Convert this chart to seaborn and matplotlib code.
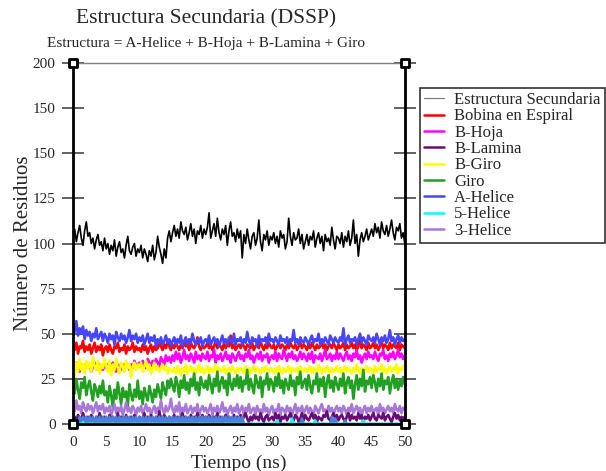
# Estructura Secundaria (DSSP) - recreated with seaborn
import numpy as np
import pandas as pd
import seaborn as sns
import matplotlib.pyplot as plt
from matplotlib.lines import Line2D

# ===============================
# Data (residue counts, every 0.25 ns)
# ===============================
tiempo = np.arange(201) * 0.25

estructura = [
    104, 108, 101, 106, 110, 103, 99, 107, 112, 104, 106, 100, 103, 97, 102, 105, 99, 101, 96, 103,
    97, 100, 94, 99, 96, 102, 93, 98, 101, 95, 97, 92, 99, 104, 96, 94, 98, 100, 93, 97,
    95, 99, 92, 97, 94, 90, 96, 93, 99, 91, 95, 104, 98, 94, 89, 97, 92, 103, 107, 101,
    106, 110, 104, 108, 103, 112, 107, 105, 109, 102, 106, 111, 104, 108, 100, 107, 105, 110, 103, 108,
    105, 109, 117, 103, 107, 111, 104, 114, 106, 102, 108, 105, 110, 99, 107, 112, 104, 106, 101, 108,
    103, 107, 92, 105, 100, 108, 102, 97, 104, 106, 99, 103, 113, 101, 96, 105, 102, 107, 99, 104,
    102, 106, 100, 104, 98, 107, 103, 105, 97, 101, 114, 104, 99, 106, 102, 103, 108, 100, 105, 97,
    101, 105, 99, 104, 102, 107, 98, 103, 106, 100, 104, 96, 105, 101, 103, 99, 109, 102, 97, 104,
    103, 100, 106, 98, 104, 101, 107, 99, 103, 113, 100, 105, 93, 102, 106, 101, 104, 108, 102, 105,
    108, 104, 111, 106, 109, 103, 112, 107, 105, 110, 104, 108, 113, 106, 102, 109, 107, 111, 103, 106,
    100]

bobina = [
    44, 41, 45, 39, 43, 42, 46, 40, 43, 41, 44, 39, 42, 45, 40, 43, 41, 44, 38, 42,
    43, 40, 44, 41, 39, 43, 42, 45, 40, 42, 41, 44, 39, 43, 41, 42, 45, 40, 43, 41,
    42, 40, 44, 41, 43, 39, 42, 44, 40, 43, 41, 42, 45, 43, 41, 44, 42, 46, 43, 41,
    44, 42, 45, 43, 41, 44, 42, 46, 43, 44, 41, 45, 43, 42, 44, 48, 43, 41, 44, 42,
    43, 45, 42, 44, 41, 43, 46, 42, 44, 43, 41, 45, 42, 44, 43, 49, 42, 44, 41, 43,
    44, 42, 45, 43, 41, 44, 43, 42, 45, 41, 43, 44, 42, 46, 43, 41, 44, 42, 45, 43,
    42, 44, 41, 43, 45, 42, 44, 43, 41, 44, 42, 45, 43, 42, 44, 41, 43, 45, 42, 44,
    43, 41, 44, 42, 45, 43, 41, 44, 42, 43, 45, 42, 44, 41, 43, 44, 42, 45, 43, 41,
    44, 42, 43, 45, 41, 44, 42, 43, 45, 42, 44, 41, 43, 48, 42, 44, 43, 41, 45, 42,
    43, 45, 42, 44, 41, 43, 46, 42, 44, 43, 41, 45, 42, 44, 43, 42, 45, 41, 44, 43,
    42]

b_hoja = [
    33, 30, 34, 31, 29, 33, 32, 30, 34, 31, 33, 29, 32, 34, 30, 32, 33, 31, 30, 33,
    31, 33, 30, 32, 34, 31, 29, 33, 32, 30, 33, 31, 34, 32, 30, 33, 31, 35, 32, 33,
    34, 32, 35, 33, 31, 36, 34, 32, 35, 33, 36, 34, 32, 37, 35, 33, 38, 35, 37, 34,
    38, 35, 40, 36, 39, 34, 37, 41, 36, 38, 35, 39, 37, 34, 40, 36, 38, 35, 39, 37,
    36, 40, 35, 38, 37, 41, 34, 38, 36, 39, 35, 37, 40, 36, 38, 34, 39, 37, 35, 38,
    40, 36, 38, 35, 39, 37, 41, 36, 38, 34, 37, 39, 36, 40, 35, 38, 37, 39, 34, 37,
    38, 36, 40, 35, 39, 37, 36, 41, 38, 35, 39, 37, 40, 36, 38, 35, 37, 40, 36, 39,
    37, 35, 39, 36, 40, 34, 38, 37, 36, 39, 35, 38, 41, 36, 37, 39, 35, 38, 36, 40,
    36, 39, 37, 35, 38, 40, 36, 38, 35, 39, 37, 41, 36, 38, 34, 37, 39, 36, 40, 37,
    38, 36, 40, 37, 35, 39, 38, 41, 36, 38, 35, 39, 37, 40, 36, 38, 41, 37, 39, 36,
    38]

b_lamina = [
    2, 4, 1, 5, 3, 2, 6, 3, 1, 4, 2, 5, 3, 1, 4, 2, 6, 3, 2, 4,
    3, 1, 5, 2, 4, 3, 1, 6, 2, 4, 3, 2, 5, 1, 3, 4, 2, 5, 3, 1,
    4, 2, 3, 6, 1, 4, 2, 5, 3, 2, 4, 1, 7, 3, 2, 5, 3, 1, 4, 2,
    3, 5, 2, 4, 1, 3, 6, 2, 4, 3, 1, 5, 2, 4, 3, 6, 2, 3, 5, 1,
    4, 2, 5, 3, 1, 4, 3, 6, 2, 4, 1, 3, 5, 2, 4, 3, 1, 5, 2, 4,
    3, 5, 2, 4, 6, 3, 1, 4, 2, 5, 3, 4, 2, 6, 3, 1, 4, 5, 2, 3,
    4, 2, 6, 3, 5, 1, 4, 3, 5, 2, 4, 6, 3, 2, 5, 4, 1, 3, 6, 2,
    5, 3, 2, 4, 6, 3, 5, 1, 4, 3, 2, 5, 4, 7, 3, 2, 4, 6, 3, 5,
    2, 4, 5, 3, 1, 4, 6, 2, 5, 3, 4, 2, 6, 3, 5, 1, 4, 3, 5, 2,
    4, 6, 3, 2, 5, 4, 3, 6, 2, 4, 5, 3, 1, 4, 6, 3, 5, 2, 4, 3,
    4]

b_giro = [
    31, 27, 34, 29, 36, 30, 33, 28, 35, 31, 34, 29, 37, 32, 30, 35, 28, 33, 31, 36,
    32, 29, 35, 27, 33, 30, 36, 31, 28, 34, 32, 29, 35, 31, 33, 26, 32, 34, 30, 33,
    31, 34, 29, 32, 35, 30, 33, 28, 31, 34, 30, 32, 29, 31, 33, 30, 32, 28, 31, 30,
    29, 31, 28, 32, 30, 27, 31, 29, 33, 28, 30, 32, 29, 31, 28, 30, 33, 29, 31, 28,
    30, 32, 28, 31, 29, 30, 33, 28, 31, 30, 29, 32, 28, 30, 31, 29, 32, 30, 28, 31,
    29, 31, 30, 28, 32, 29, 31, 28, 30, 32, 29, 31, 30, 28, 31, 29, 32, 30, 29, 31,
    30, 28, 31, 29, 32, 30, 28, 31, 29, 30, 32, 28, 31, 30, 29, 31, 28, 32, 30, 29,
    31, 29, 30, 32, 28, 31, 30, 29, 33, 30, 28, 31, 29, 32, 30, 28, 31, 29, 30, 32,
    29, 31, 28, 30, 32, 29, 31, 30, 28, 31, 29, 33, 30, 28, 31, 29, 30, 32, 29, 31,
    30, 28, 32, 29, 31, 30, 33, 29, 31, 28, 30, 32, 29, 31, 30, 33, 28, 31, 30, 32,
    30]

giro = [
    22, 17, 25, 19, 14, 23, 20, 26, 16, 21, 24, 18, 13, 22, 19, 15, 21, 17, 24, 16,
    18, 12, 21, 16, 9, 19, 14, 23, 17, 11, 20, 15, 18, 10, 22, 16, 13, 19, 15, 24,
    14, 18, 11, 20, 16, 13, 21, 17, 12, 19, 15, 22, 18, 14, 23, 19, 16, 24, 20, 25,
    21, 18, 26, 22, 15, 24, 20, 27, 19, 23, 17, 25, 21, 28, 19, 23, 16, 26, 22, 20,
    24, 19, 27, 22, 17, 25, 21, 29, 18, 23, 26, 20, 24, 16, 28, 22, 19, 25, 21, 27,
    20, 26, 18, 24, 22, 30, 19, 25, 21, 17, 27, 23, 20, 26, 15, 24, 22, 28, 19, 25,
    23, 18, 26, 21, 28, 20, 24, 17, 25, 22, 19, 27, 21, 24, 16, 26, 22, 29, 20, 23,
    25, 19, 27, 21, 17, 24, 22, 28, 18, 25, 21, 26, 15, 23, 27, 20, 24, 18, 26, 22,
    19, 25, 21, 28, 17, 23, 26, 20, 24, 14, 22, 27, 19, 25, 21, 30, 18, 24, 22, 26,
    20, 27, 23, 18, 25, 21, 28, 19, 24, 22, 26, 17, 23, 27, 20, 25, 19, 24, 21, 26,
    22]

a_helice = [
    55, 51, 57, 49, 53, 50, 54, 47, 52, 49, 51, 46, 50, 48, 53, 47, 49, 51, 46, 50,
    48, 45, 50, 47, 49, 44, 51, 48, 46, 50, 47, 49, 45, 48, 52, 46, 49, 47, 50, 45,
    48, 46, 49, 44, 47, 50, 45, 48, 46, 49, 43, 47, 45, 48, 44, 46, 49, 45, 47, 43,
    46, 48, 44, 47, 45, 49, 43, 46, 48, 44, 47, 45, 50, 46, 44, 47, 45, 48, 43, 46,
    47, 45, 49, 44, 46, 48, 45, 47, 43, 46, 49, 45, 47, 44, 48, 46, 45, 50, 44, 47,
    46, 48, 44, 47, 45, 51, 46, 44, 48, 46, 47, 43, 49, 45, 47, 46, 48, 44, 50, 46,
    47, 45, 48, 46, 44, 49, 46, 47, 45, 48, 44, 47, 46, 52, 45, 47, 44, 48, 46, 45,
    48, 46, 44, 47, 49, 45, 47, 46, 50, 44, 47, 45, 48, 46, 44, 49, 47, 45, 48, 46,
    45, 48, 46, 53, 44, 47, 49, 45, 47, 46, 48, 44, 47, 50, 45, 48, 46, 44, 49, 47,
    46, 48, 45, 50, 47, 44, 48, 46, 49, 45, 47, 52, 46, 48, 44, 47, 49, 45, 48, 46,
    47]

helice_5 = [
    0, 0, 0, 0, 0, 0, 1, 0, 0, 0, 0, 0, 0, 0, 0, 0, 0, 0, 0, 0,
    0, 0, 0, 0, 0, 0, 0, 0, 0, 0, 0, 0, 0, 0, 0, 0, 0, 0, 0, 0,
    0, 0, 0, 0, 0, 0, 0, 0, 0, 0, 0, 0, 0, 0, 0, 0, 0, 0, 0, 0,
    0, 0, 0, 0, 0, 0, 0, 0, 0, 0, 0, 0, 0, 0, 0, 0, 0, 0, 0, 0,
    0, 0, 0, 0, 0, 0, 0, 0, 0, 0, 0, 0, 0, 0, 0, 0, 0, 0, 0, 0,
    0, 0, 0, 0, 0, 0, 0, 0, 0, 0, 0, 0, 0, 0, 0, 0, 0, 0, 0, 0,
    0, 0, 0, 2, 0, 0, 0, 0, 0, 0, 0, 0, 3, 0, 0, 0, 0, 0, 0, 0,
    0, 0, 0, 0, 0, 0, 2, 0, 0, 0, 0, 0, 0, 0, 0, 0, 0, 0, 0, 0,
    0, 0, 0, 0, 0, 0, 0, 0, 0, 0, 0, 0, 0, 0, 0, 2, 0, 0, 0, 0,
    0, 0, 0, 0, 0, 0, 0, 0, 0, 0, 0, 0, 0, 0, 0, 0, 0, 0, 0, 0,
    0]

helice_3 = [
    11, 7, 13, 8, 10, 6, 12, 9, 7, 11, 8, 10, 6, 9, 12, 7, 10, 8, 11, 6,
    9, 7, 10, 5, 8, 11, 6, 9, 7, 10, 5, 8, 12, 7, 9, 6, 10, 8, 5, 9,
    7, 10, 6, 8, 11, 7, 9, 5, 8, 10, 6, 9, 7, 13, 8, 6, 10, 7, 9, 14,
    8, 6, 10, 7, 12, 5, 9, 7, 11, 6, 8, 10, 6, 9, 7, 11, 5, 8, 10, 7,
    9, 6, 8, 11, 5, 9, 7, 10, 6, 8, 12, 7, 9, 5, 8, 10, 6, 9, 7, 11,
    6, 8, 10, 5, 9, 7, 11, 6, 8, 9, 5, 10, 7, 8, 6, 11, 7, 9, 5, 8,
    10, 6, 8, 7, 11, 5, 9, 8, 6, 10, 7, 9, 5, 8, 11, 6, 9, 7, 10, 6,
    8, 10, 6, 9, 7, 5, 10, 8, 6, 9, 11, 7, 8, 6, 10, 7, 9, 5, 8, 10,
    7, 9, 6, 10, 8, 5, 9, 7, 11, 6, 8, 10, 7, 9, 5, 8, 10, 6, 9, 7,
    10, 6, 8, 9, 5, 11, 7, 9, 6, 8, 10, 7, 9, 6, 11, 8, 7, 10, 6, 9,
    8]

# extra set drawn at the bottom (steel blue band, not in the legend)
separador = [
    0, 0, 0, 0, 4, 0, 4, 0, 4, 0, 4, 1, 4, 0, 4, 0, 4, 0, 4, 0,
    4, 0, 4, 0, 4, 1, 4, 0, 4, 0, 4, 0, 4, 0, 4, 0, 4, 1, 4, 0,
    4, 0, 4, 0, 4, 0, 4, 1, 4, 0, 4, 0, 4, 0, 4, 0, 4, 0, 4, 0,
    4, 0, 4, 1, 4, 0, 4, 0, 4, 0, 4, 0, 4, 0, 4, 0, 4, 1, 4, 0,
    4, 0, 4, 0, 4, 0, 4, 0, 4, 0, 4, 1, 4, 0, 4, 0, 4, 0, 4, 0,
    4, 0, 4, 0, 0, 0, 0, 0, 0, 0, 0, 0, 0, 0, 0, 0, 0, 0, 0, 0,
    0, 0, 0, 0, 0, 0, 0, 0, 0, 0, 0, 0, 0, 0, 0, 0, 0, 0, 3, 0,
    0, 0, 0, 0, 0, 0, 0, 0, 0, 0, 0, 0, 0, 0, 0, 0, 4, 0, 3, 0,
    0, 0, 0, 0, 2, 0, 0, 0, 0, 0, 0, 0, 0, 0, 0, 0, 0, 0, 0, 0,
    0, 0, 0, 0, 0, 0, 0, 0, 0, 0, 0, 0, 0, 0, 0, 0, 0, 0, 0, 0,
    0]

etiquetas = ["Estructura Secundaria", "Bobina en Espiral", "B-Hoja", "B-Lamina",
             "B-Giro", "Giro", "A-Helice", "5-Helice", "3-Helice"]
colores = ["#000000", "#ff0000", "#ff00ff", "#6a0a78", "#ffff00",
           "#22a022", "#4646ff", "#00ffff", "#a878d8"]
valores = [estructura, bobina, b_hoja, b_lamina, b_giro, giro, a_helice, helice_5, helice_3]
# y tick labels as printed on the original figure
y_ticks = [0, 25, 50, 75, 100, 125, 150, 175, 200]
y_tick_labels = ["0", "25", "50", "75", "100", "125", "150", "150", "200"]
# drawing order (later ones on top)
orden = ["Estructura Secundaria", "Bobina en Espiral", "A-Helice", "B-Hoja", "B-Giro",
         "Giro", "3-Helice", "B-Lamina", "Separador", "5-Helice"]

x_lim = [0, 50]
y_lim = [0, 200]

# ===============================
# Long-form table
# ===============================
frames = [pd.DataFrame({"Tiempo": tiempo, "Residuos": v, "Serie": n})
          for n, v in zip(etiquetas + ["Separador"], valores + [separador])]
df = pd.concat(frames, ignore_index=True)
paleta = dict(zip(etiquetas, colores))
paleta["Separador"] = "#4a80d8"

# ===============================
# Plot
# ===============================
sns.set_style("white")
plt.rcParams["font.family"] = ["Liberation Serif", "DejaVu Serif"]

fig = plt.figure(figsize=(6.06, 4.71), dpi=100)
ax = fig.add_axes([0.1205, 0.0998, 0.5475, 0.7664])

for serie in orden:
    sub = df[df["Serie"] == serie]
    lw = 1.2 if serie == "Estructura Secundaria" else 1.9
    sns.lineplot(data=sub, x="Tiempo", y="Residuos", color=paleta[serie],
                 estimator=None, sort=False, linewidth=lw, ax=ax)

ax.set_xlim(x_lim)
ax.set_ylim(y_lim)
ax.set_xticks(np.arange(0, 51, 5))
ax.set_yticks(y_ticks)
ax.set_yticklabels(y_tick_labels)
ax.set_xlabel("Tiempo (ns)", fontsize=14, labelpad=4)
ax.set_ylabel("Número de Residuos", fontsize=15, labelpad=0)

for side in ["left", "right", "bottom"]:
    ax.spines[side].set_color("black")
    ax.spines[side].set_linewidth(2)
ax.spines["top"].set_color("#808080")
ax.spines["top"].set_linewidth(1)

ax.tick_params(axis="x", direction="inout", length=12, width=1.3, color="#555555",
               labelsize=11, pad=3, top=False)
ax.tick_params(axis="y", direction="inout", length=16, width=1.3, color="#555555",
               labelsize=11, pad=4.5, right=True, left=True)

# corner markers of the frame
cx = [x_lim[0], x_lim[1], x_lim[0], x_lim[1]]
cy = [y_lim[1], y_lim[1], y_lim[0], y_lim[0]]
ax.scatter(cx, cy, marker="s", s=30, facecolor="white", edgecolor="black",
           linewidth=2, clip_on=False, zorder=5)

fig.text(206 / 606, 1 - 19 / 471, "Estructura Secundaria (DSSP)", ha="center",
         va="center", fontsize=15.5)
fig.text(206 / 606, 1 - 44 / 471, "Estructura = A-Helice + B-Hoja + B-Lamina + Giro",
         ha="center", va="center", fontsize=11)

handles = [Line2D([], [], color=c, lw=0.9 if i == 0 else 1.8)
           for i, c in enumerate(colores)]
handles[0].set_color("#808080")
leg = fig.legend(handles, etiquetas, loc="upper left",
                 bbox_to_anchor=(420 / 606, 1 - 88 / 471), fontsize=12,
                 frameon=True, fancybox=False, handlelength=1.2, handletextpad=0.6,
                 labelspacing=0.02, borderpad=0.25, borderaxespad=0)
leg.get_frame().set_edgecolor("black")
leg.get_frame().set_linewidth(1.2)

plt.savefig("out.png", dpi=100)
